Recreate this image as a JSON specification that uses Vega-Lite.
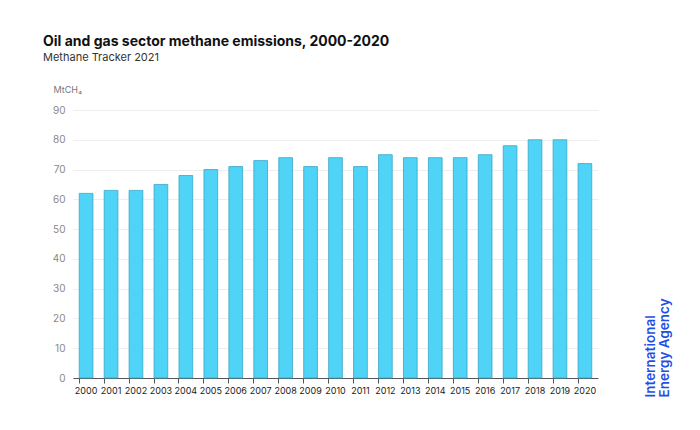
{
  "$schema": "https://vega.github.io/schema/vega-lite/v6.json",
  "width": 525,
  "height": 268,
  "autosize": {"type": "none"},
  "padding": {"left": 73, "top": 110, "right": 102, "bottom": 52},
  "background": "white",
  "title": {
    "text": "Oil and gas sector methane emissions, 2000-2020",
    "subtitle": "Methane Tracker 2021",
    "anchor": "start",
    "frame": "group",
    "dx": -30,
    "offset": 22,
    "font": "Inter",
    "fontSize": 14,
    "fontWeight": "bold",
    "color": "#111111",
    "subtitleFont": "Inter",
    "subtitleFontSize": 11,
    "subtitleColor": "#333333",
    "subtitlePadding": 3
  },
  "data": {
    "values": [
      {"year": "2000", "value": 62},
      {"year": "2001", "value": 63},
      {"year": "2002", "value": 63},
      {"year": "2003", "value": 65},
      {"year": "2004", "value": 68},
      {"year": "2005", "value": 70},
      {"year": "2006", "value": 71},
      {"year": "2007", "value": 73},
      {"year": "2008", "value": 74},
      {"year": "2009", "value": 71},
      {"year": "2010", "value": 74},
      {"year": "2011", "value": 71},
      {"year": "2012", "value": 75},
      {"year": "2013", "value": 74},
      {"year": "2014", "value": 74},
      {"year": "2015", "value": 74},
      {"year": "2016", "value": 75},
      {"year": "2017", "value": 78},
      {"year": "2018", "value": 80},
      {"year": "2019", "value": 80},
      {"year": "2020", "value": 72}
    ]
  },
  "encoding": {
    "x": {
      "field": "year",
      "type": "ordinal",
      "scale": {"paddingInner": 0.45, "paddingOuter": 0.25},
      "axis": {
        "title": null,
        "labelAngle": 0,
        "labelFont": "Inter",
        "labelFontSize": 9,
        "labelColor": "#222222",
        "domainColor": "#555555",
        "tickColor": "#555555",
        "bandPosition": 0,
        "tickSize": 5,
        "labelPadding": 3
      }
    }
  },
  "layer": [
    {
      "mark": {"type": "bar", "color": "#4fd3f7", "stroke": "#3aa6c8", "strokeWidth": 0.8},
      "encoding": {
        "y": {
          "field": "value",
          "type": "quantitative",
          "scale": {"domain": [0, 90]},
          "axis": {
            "title": "MtCH₄",
            "titleAngle": 0,
            "titleAlign": "left",
            "titleBaseline": "middle",
            "titleX": -20,
            "titleY": -21,
            "titleFont": "Inter",
            "titleFontSize": 9,
            "titleFontWeight": "normal",
            "titleColor": "#777777",
            "values": [0, 10, 20, 30, 40, 50, 60, 70, 80, 90],
            "labelFont": "Inter",
            "labelFontSize": 10,
            "labelColor": "#888888",
            "labelPadding": 8,
            "domain": false,
            "ticks": false,
            "gridColor": "#eeeeee"
          }
        }
      }
    },
    {
      "mark": {"type": "bar", "opacity": 0},
      "encoding": {
        "y": {
          "field": "value",
          "type": "quantitative",
          "scale": {"domain": [0, 90]},
          "axis": {
            "orient": "right",
            "title": ["International", "Energy Agency"],
            "titleAngle": 270,
            "titleAlign": "left",
            "titleBaseline": "top",
            "titleX": 45,
            "titleY": 287,
            "titleFont": "Inter",
            "titleFontSize": 13.5,
            "titleFontWeight": 600,
            "titleLineHeight": 14,
            "titleColor": "#1f4fe6",
            "labels": false,
            "ticks": false,
            "domain": false,
            "grid": false
          }
        }
      }
    }
  ],
  "resolve": {"scale": {"y": "independent"}},
  "config": {"view": {"stroke": null}}
}
